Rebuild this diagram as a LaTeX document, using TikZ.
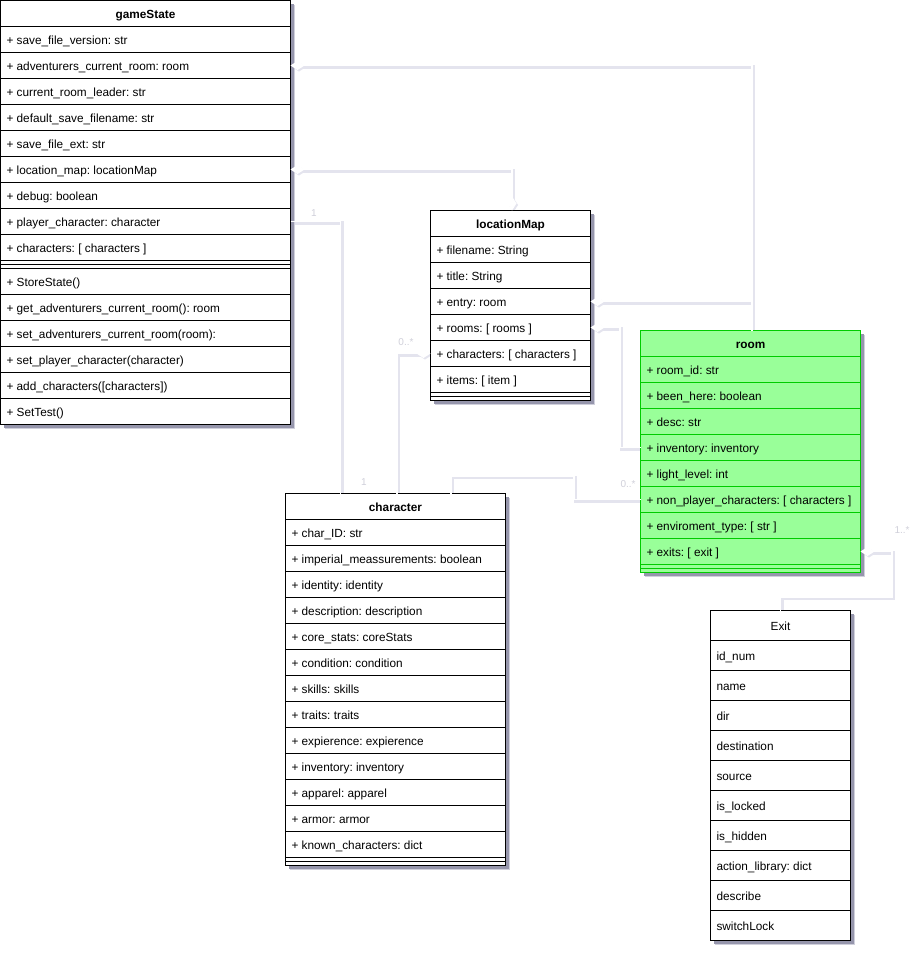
\documentclass[tikz,border=0pt]{standalone}
\usepackage{fontspec}
\setmainfont{Liberation Sans}
\usetikzlibrary{arrows.meta}

\definecolor{roomfill}{RGB}{153,255,153}
\definecolor{roomline}{RGB}{0,204,0}
\definecolor{linkshadow}{RGB}{228,228,238}
\definecolor{boxshadowdark}{RGB}{150,150,172}
\definecolor{boxshadowlight}{RGB}{208,208,220}
\definecolor{multcol}{RGB}{208,208,218}

\pgfdeclarelayer{linkbg}
\pgfsetlayers{linkbg,main}

\tikzset{
  dia/.tip={Diamond[length=14pt 0,width=9pt 0]},
  umlbox/.style={draw, line width=1pt, fill=white, anchor=north west, outer sep=0pt,
    inner xsep=6pt, inner ysep=0pt, text height=11pt, text depth=2pt,
    font=\fontsize{11.8}{14}\selectfont\frenchspacing},
  umlrow/.style={umlbox, minimum height=26pt,
    execute at begin node={\hbox to #1\bgroup},
    execute at end node={\hfil\egroup}},
  umlhead/.style={umlbox, minimum height=26pt, text width=#1, align=center,
    font=\fontsize{11.8}{14}\selectfont\bfseries},
  umlsep/.style={draw, line width=1pt, fill=white, anchor=north west, outer sep=0pt,
    inner sep=0pt, minimum height=8pt, minimum width=#1},
  greenbox/.style={draw=roomline, fill=roomfill},
  exitrow/.style={umlrow=#1, minimum height=30pt},
  link/.style={draw=white, line width=1.2pt},
  linkshade/.style={draw=linkshadow, line width=3.2pt, transform canvas={shift={(1.5pt,-1.5pt)}}},
  mult/.style={text=multcol, inner sep=0pt, font=\fontsize{10}{12}\selectfont},
}

% shadow behind a class box
\newcommand\umlshadow[4]{%
  \fill[boxshadowlight] (#1+4.5,#2+4.5) rectangle (#3+4.5,#4+4.5);
  \fill[boxshadowdark] (#1+3,#2+3) rectangle (#3+3,#4+3);}

% association: shadow on the lower layer, white line on top
\newcommand\umllink[2]{%
  \begin{pgfonlayer}{linkbg}\draw[linkshade,#1] #2;\end{pgfonlayer}
  \draw[link,#1] #2;}

\begin{document}
\begin{tikzpicture}[x=1pt,y=-1pt]
\begin{pgfonlayer}{linkbg}
  \fill[white] (0,0) rectangle (923,956);
\end{pgfonlayer}
\useasboundingbox (0,0) rectangle (923,956);

% box shadows
\umlshadow{0.5}{0.5}{290.5}{424.5}
\umlshadow{430.5}{210.5}{590.5}{400.5}
\umlshadow{640.5}{330.5}{860.5}{572.5}
\umlshadow{285.5}{493.5}{505.5}{865.5}
\umlshadow{710.5}{610.5}{850.5}{940.5}

% ---------- gameState ----------
\node[umlhead=278pt] (gs-h) at (0.5,0.5) {gameState};
\foreach \txt [count=\i] in {
  {+ save\_file\_version: str},
  {+ adventurers\_current\_room: room},
  {+ current\_room\_leader: str},
  {+ default\_save\_filename: str},
  {+ save\_file\_ext: str},
  {+ location\_map: locationMap},
  {+ debug: boolean},
  {+ player\_character: character},
  {+ characters: [ characters ]}}
  \node[umlrow=278pt] (gs-\i) at (0.5,{26.5+26*(\i-1)}) {\txt};
\node[umlsep=290pt] (gs-sep) at (0.5,260.5) {};
\draw[line width=1pt] (gs-sep.west) -- (gs-sep.east);
\foreach \txt [count=\i] in {
  {+ StoreState()},
  {+ get\_adventurers\_current\_room(): room},
  {+ set\_adventurers\_current\_room(room):},
  {+ set\_player\_character(character)},
  {+ add\_characters([characters])},
  {+ SetTest()}}
  \node[umlrow=278pt] (gm-\i) at (0.5,{268.5+26*(\i-1)}) {\txt};

% ---------- locationMap ----------
\node[umlhead=148pt] (lm-h) at (430.5,210.5) {locationMap};
\foreach \txt [count=\i] in {
  {+ filename: String},
  {+ title: String},
  {+ entry: room},
  {+ rooms: [ rooms ]},
  {+ characters: [ characters ]},
  {+ items: [ item ]}}
  \node[umlrow=148pt] (lm-\i) at (430.5,{236.5+26*(\i-1)}) {\txt};
\node[umlsep=160pt] (lm-sep) at (430.5,392.5) {};
\draw[line width=1pt] (lm-sep.west) -- (lm-sep.east);

% ---------- room ----------
\node[umlhead=208pt, greenbox] (rm-h) at (640.5,330.5) {room};
\foreach \txt [count=\i] in {
  {+ room\_id: str},
  {+ been\_here: boolean},
  {+ desc: str},
  {+ inventory: inventory},
  {+ light\_level: int},
  {+ non\_player\_characters: [ characters ]},
  {+ enviroment\_type: [ str ]},
  {+ exits: [ exit ]}}
  \node[umlrow=208pt, greenbox] (rm-\i) at (640.5,{356.5+26*(\i-1)}) {\txt};
\node[umlsep=220pt, greenbox] (rm-sep) at (640.5,564.5) {};
\draw[line width=1pt, roomline] (rm-sep.west) -- (rm-sep.east);

% ---------- character ----------
\node[umlhead=208pt] (ch-h) at (285.5,493.5) {character};
\foreach \txt [count=\i] in {
  {+ char\_ID: str},
  {+ imperial\_meassurements: boolean},
  {+ identity: identity},
  {+ description: description},
  {+ core\_stats: coreStats},
  {+ condition: condition},
  {+ skills: skills},
  {+ traits: traits},
  {+ expierence: expierence},
  {+ inventory: inventory},
  {+ apparel: apparel},
  {+ armor: armor},
  {+ known\_characters: dict}}
  \node[umlrow=208pt] (ch-\i) at (285.5,{519.5+26*(\i-1)}) {\txt};
\node[umlsep=220pt] (ch-sep) at (285.5,857.5) {};
\draw[line width=1pt] (ch-sep.west) -- (ch-sep.east);

% ---------- Exit ----------
\node[umlhead=128pt, minimum height=30pt, font=\fontsize{11.8}{14}\selectfont] (ex-h) at (710.5,610.5) {Exit};
\foreach \txt [count=\i] in {
  {id\_num}, {name}, {dir}, {destination}, {source}, {is\_locked},
  {is\_hidden}, {action\_library: dict}, {describe}, {switchLock}}
  \node[exitrow=128pt] (ex-\i) at (710.5,{640.5+30*(\i-1)}) {\txt};

% ---------- associations ----------
\coordinate (j3) at (620,447.5);
\coordinate (j6) at (574,476);
\coordinate (j7) at (892,597);

\umllink{-dia}{([xshift=1.5pt]rm-h.north) |- (gs-2.east)}
\umllink{-dia}{([xshift=1.5pt]rm-h.north) |- (lm-3.east)}
\umllink{dia-dia}{(gs-6.east) -| ([xshift=1.5pt]lm-h.north)}
\umllink{dia-}{(lm-4.east) -| (j3) -- (rm-4.west)}
\umllink{dia-}{(lm-5.west) -| ([xshift=1.5pt]ch-h.north)}
\umllink{}{(gs-8.east) -| ([xshift=55pt]ch-h.north west)}
\umllink{}{([xshift=-54.5pt]ch-h.north east) |- (j6) |- (rm-6.west)}
\umllink{dia-}{(rm-8.east) -| (j7) -| (ex-h.north)}

% multiplicities
\node[mult] (m1) at (314,213) {1};
\node[mult] (m2) at (364,482) {1};
\node[mult] (m3) at (406,342) {0..*};
\node[mult] (m4) at (628,484) {0..*};
\node[mult] (m5) at (902,530) {1..*};
\end{tikzpicture}
\end{document}
